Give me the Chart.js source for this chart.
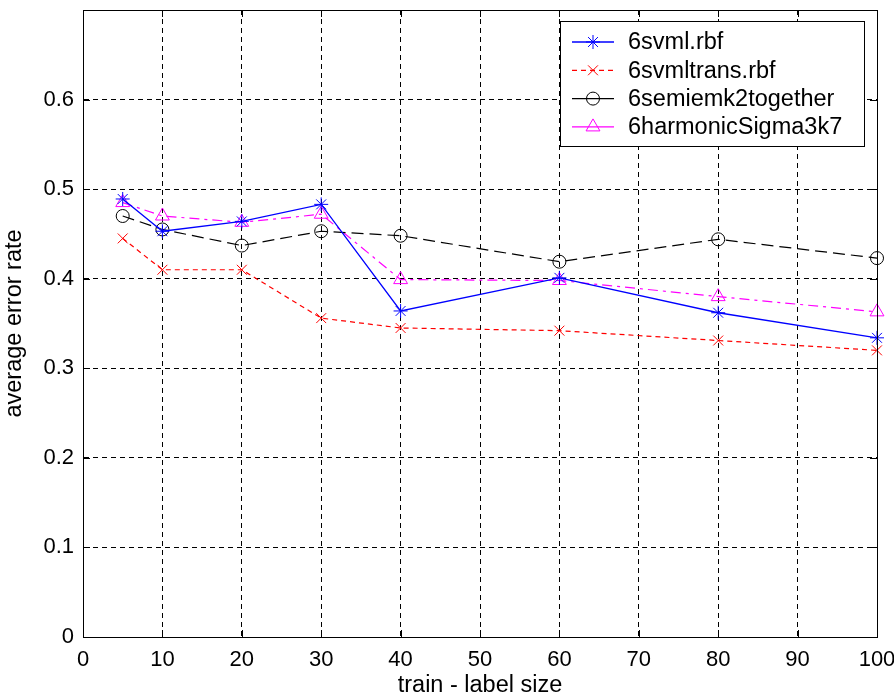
<!DOCTYPE html>
<html>
<head>
<meta charset="utf-8">
<script src="https://cdn.jsdelivr.net/npm/chart.js@4"></script>
<style>
  body { margin: 0; background: #fff; }
  #wrap { width: 894px; height: 700px; position: relative; }
</style>
</head>
<body>
<div id="wrap"><canvas id="errChart"></canvas></div>
<script>
// Data
const trainSizes = [5, 10, 20, 30, 40, 60, 80, 100];
const svmlRbf = [0.489, 0.453, 0.464, 0.483, 0.364, 0.401, 0.362, 0.334];
const svmlTransRbf = [0.445, 0.410, 0.410, 0.356, 0.345, 0.342, 0.331, 0.320];
const semiEmTogether = [0.470, 0.455, 0.437, 0.453, 0.448, 0.419, 0.444, 0.423];
const harmonicSigma = [0.485, 0.470, 0.463, 0.472, 0.399, 0.398, 0.380, 0.363];
const seriesNames = ['6svml.rbf', '6svmltrans.rbf', '6semiemk2together', '6harmonicSigma3k7'];
const xTicks = [0, 10, 20, 30, 40, 50, 60, 70, 80, 90, 100];
const yTicks = [0, 0.1, 0.2, 0.3, 0.4, 0.5, 0.6];

const FONT = "'Liberation Sans', Arial, sans-serif";

function toPoints(ys) {
  return trainSizes.map((x, i) => ({ x: x, y: ys[i] }));
}

// legend sample dash differs from the plotted dash in the reference
const legendDash = [[], [5, 4], [], []];

// frame with inward ticks, plus the MATLAB style legend box
const matlabFrame = {
  id: 'matlabFrame',
  afterDraw(chart) {
    const ctx = chart.ctx;
    const a = chart.chartArea;
    const xs = chart.scales.x, ys = chart.scales.y;
    ctx.save();
    ctx.strokeStyle = '#000';
    ctx.lineWidth = 1;
    ctx.setLineDash([]);
    ctx.strokeRect(Math.round(a.left) + 0.5, Math.round(a.top) + 0.5,
      Math.round(a.right - a.left), Math.round(a.bottom - a.top));
    const tl = 7;
    ctx.beginPath();
    xTicks.forEach(v => {
      const px = Math.round(xs.getPixelForValue(v)) + 0.5;
      ctx.moveTo(px, a.bottom); ctx.lineTo(px, a.bottom - tl);
      ctx.moveTo(px, a.top); ctx.lineTo(px, a.top + tl);
    });
    yTicks.forEach(v => {
      const py = Math.round(ys.getPixelForValue(v)) + 0.5;
      ctx.moveTo(a.left, py); ctx.lineTo(a.left + tl, py);
      ctx.moveTo(a.right, py); ctx.lineTo(a.right - tl, py);
    });
    ctx.stroke();

    // legend
    const bx = 560.5, by = 21.5, bw = 304, bh = 125;
    ctx.fillStyle = '#fff';
    ctx.fillRect(bx, by, bw, bh);
    ctx.strokeRect(bx, by, bw, bh);
    ctx.font = '23.5px ' + FONT;
    ctx.textBaseline = 'middle';
    ctx.textAlign = 'left';
    chart.data.datasets.forEach((ds, i) => {
      const y = 42 + i * 28.3;
      ctx.strokeStyle = ds.borderColor;
      ctx.lineWidth = ds.borderWidth;
      ctx.setLineDash(legendDash[i]);
      ctx.beginPath();
      ctx.moveTo(572, y); ctx.lineTo(614, y);
      ctx.stroke();
      ctx.setLineDash([]);
      ctx.lineWidth = 1;
      ctx.fillStyle = 'rgba(0,0,0,0)';
      if (Chart.helpers && Chart.helpers.drawPoint) {
        Chart.helpers.drawPoint(ctx, {
          pointStyle: ds.pointStyle, radius: ds.pointRadius,
          rotation: 0, borderWidth: 1
        }, 593, y);
      }
      ctx.fillStyle = '#000';
      ctx.fillText(ds.label, 628, y + 1);
    });
    ctx.restore();
  }
};

const ctx = document.getElementById('errChart').getContext('2d');
const errChart = new Chart(ctx, {
  type: 'line',
  data: {
    datasets: [{
      label: seriesNames[0],
      data: toPoints(svmlRbf),
      borderColor: '#0000ff',
      borderWidth: 1.3,
      pointStyle: 'star',
      pointRadius: 7,
      pointBorderColor: '#0000ff',
      pointBackgroundColor: 'rgba(0,0,0,0)',
      pointBorderWidth: 1
    }, {
      label: seriesNames[1],
      data: toPoints(svmlTransRbf),
      borderColor: '#ff0000',
      borderWidth: 1.2,
      borderDash: [5, 4],
      pointStyle: 'crossRot',
      pointRadius: 7,
      pointBorderColor: '#ff0000',
      pointBackgroundColor: 'rgba(0,0,0,0)',
      pointBorderWidth: 1
    }, {
      label: seriesNames[2],
      data: toPoints(semiEmTogether),
      borderColor: '#000000',
      borderWidth: 1.2,
      borderDash: [12, 6],
      pointStyle: 'circle',
      pointRadius: 6.5,
      pointBorderColor: '#000000',
      pointBackgroundColor: 'rgba(0,0,0,0)',
      pointBorderWidth: 1
    }, {
      label: seriesNames[3],
      data: toPoints(harmonicSigma),
      borderColor: '#ff00ff',
      borderWidth: 1.2,
      borderDash: [10, 5, 3, 5],
      pointStyle: 'triangle',
      pointRadius: 8,
      pointBorderColor: '#ff00ff',
      pointBackgroundColor: 'rgba(0,0,0,0)',
      pointBorderWidth: 1
    }]
  },
  options: {
    responsive: true,
    maintainAspectRatio: false,
    animation: false,
    clip: false,
    layout: {
      padding: { top: 10, right: 17, bottom: 0, left: 0 }
    },
    elements: {
      line: { tension: 0, fill: false }
    },
    plugins: {
      legend: { display: false },
      tooltip: { enabled: false }
    },
    scales: {
      x: {
        type: 'linear',
        min: 0,
        max: 100,
        afterBuildTicks: s => { s.ticks = xTicks.map(v => ({ value: v })); },
        afterFit: s => { s.height = 63; s.paddingLeft = 0; s.paddingRight = 0; },
        grid: { color: '#000', lineWidth: 1, drawTicks: false },
        border: { display: true, color: '#000', dash: [5, 4] },
        ticks: {
          color: '#000',
          padding: 10,
          maxRotation: 0,
          autoSkip: false,
          font: { family: FONT, size: 22 }
        },
        title: {
          display: true,
          text: 'train - label size',
          color: '#000',
          padding: { top: 0, bottom: 0 },
          font: { family: FONT, size: 23.5 }
        }
      },
      y: {
        min: 0,
        max: 0.7,
        afterBuildTicks: s => { s.ticks = yTicks.concat([0.7]).map(v => ({ value: v })); },
        afterFit: s => { s.width = 83; s.paddingTop = 0; s.paddingBottom = 0; },
        grid: { color: '#000', lineWidth: 1, drawTicks: false },
        border: { display: true, color: '#000', dash: [5, 4] },
        ticks: {
          color: '#000',
          padding: 9,
          autoSkip: false,
          font: { family: FONT, size: 22 },
          callback: v => (v > 0.65 ? '' : String(+v.toFixed(1)))
        },
        title: {
          display: true,
          text: 'average error rate',
          color: '#000',
          padding: { top: 0, bottom: 0 },
          font: { family: FONT, size: 23.5 }
        }
      }
    }
  },
  plugins: [matlabFrame]
});
</script>
</body>
</html>
